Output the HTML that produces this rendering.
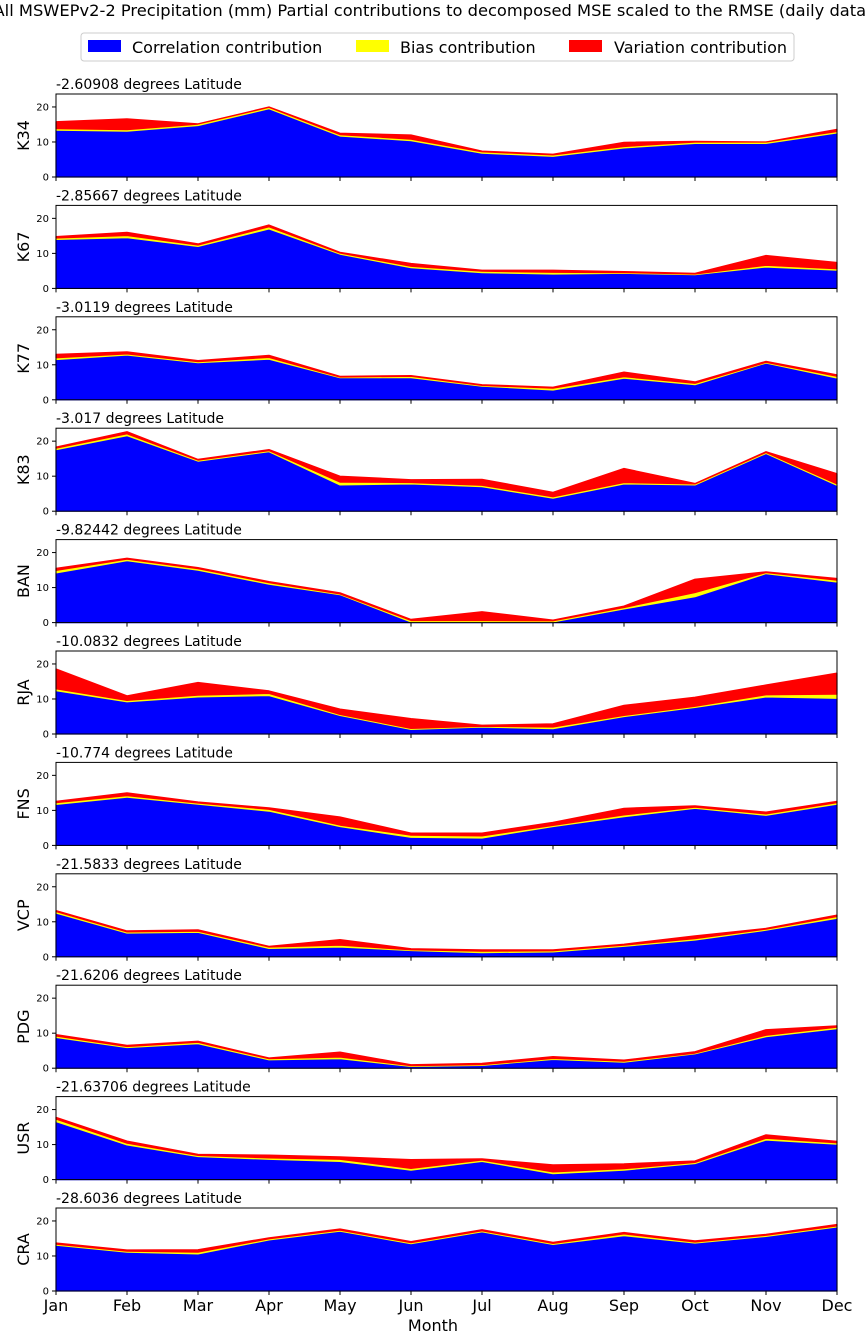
<!DOCTYPE html>
<html><head><meta charset="utf-8"><style>
html,body{margin:0;padding:0;background:#fff;}
svg{display:block;font-family:"DejaVu Sans","Liberation Sans",sans-serif;}
</style></head><body>
<svg id="chart" width="866" height="1331" viewBox="0 0 866 1331" xmlns="http://www.w3.org/2000/svg">
<text x="433" y="16" font-size="16.3" text-anchor="middle">All MSWEPv2-2 Precipitation (mm) Partial contributions to decomposed MSE scaled to the RMSE (daily data)</text>
<g>
<rect x="81" y="33" width="713" height="28" rx="3" fill="#fff" stroke="#ccc"/>
<rect x="88" y="40" width="33" height="12" fill="#0000ff"/>
<text x="132" y="53" font-size="16">Correlation contribution</text>
<rect x="356" y="40" width="33" height="12" fill="#ffff00"/>
<text x="400" y="53" font-size="16">Bias contribution</text>
<rect x="569" y="40" width="33" height="12" fill="#ff0000"/>
<text x="614" y="53" font-size="16">Variation contribution</text>
</g>
<g id="panels"></g>
<text x="433" y="1331" font-size="16" text-anchor="middle">Month</text>
</svg>
<script>
const months = ["Jan","Feb","Mar","Apr","May","Jun","Jul","Aug","Sep","Oct","Nov","Dec"];
const stations = ["K34","K67","K77","K83","BAN","RJA","FNS","VCP","PDG","USR","CRA"];
const latitudes = ["-2.60908","-2.85667","-3.0119","-3.017","-9.82442","-10.0832","-10.774","-21.5833","-21.6206","-21.63706","-28.6036"];
const yTicks = [0,10,20];
const corrK34=[13.4,13.1,14.7,19.5,11.7,10.4,6.8,5.9,8.3,9.6,9.6,12.6];
const biasK34=[0.4,0.4,0.4,0.4,0.4,0.4,0.4,0.4,0.4,0.4,0.4,0.4];
const varK34=[2.0,3.1,0.1,0.1,0.4,1.2,0.2,0.2,1.2,0.2,0.0,0.6];
const corrK67=[14,14.5,12,17,9.8,5.9,4.5,4.1,4.3,3.9,6.1,5.2];
const biasK67=[0.4,0.6,0.4,0.6,0.3,0.4,0.4,0.5,0.2,0.2,0.5,0.4];
const varK67=[0.4,0.9,0.3,0.5,0.2,0.8,0.3,0.6,0.3,0.2,2.8,1.8];
const corrK77=[11.5,12.8,10.6,11.6,6.3,6.3,3.9,2.8,6.2,4.3,10.5,6.2];
const biasK77=[0.5,0.3,0.3,0.5,0.2,0.4,0.2,0.5,0.4,0.4,0.2,0.5];
const varK77=[1.0,0.6,0.3,0.6,0.2,0.2,0.2,0.3,1.3,0.4,0.3,0.4];
const corrK83=[17.6,21.6,14.3,17,7.5,7.8,7,3.7,7.8,7.5,16.5,7.4];
const biasK83=[0.4,0.5,0.3,0.3,0.8,0.4,0.4,0.4,0.4,0.3,0.3,0.4];
const varK83=[0.3,0.6,0.2,0.3,1.7,0.8,1.7,1.3,4.0,0.1,0.2,2.9];
const corrBAN=[14.2,17.7,15,11,8,0.2,0.2,0.2,3.9,7.4,14,11.6];
const biasBAN=[0.7,0.4,0.4,0.4,0.2,0.4,0.4,0.3,0.4,1.2,0.3,0.5];
const varBAN=[0.6,0.3,0.3,0.3,0.3,0.3,2.5,0.2,0.4,3.8,0.2,0.5];
const corrRJA=[12.4,9.2,10.6,11,5.3,1.3,2,1.5,5,7.6,10.6,10.2];
const biasRJA=[0.5,0.4,0.5,0.6,0.3,0.3,0.2,0.5,0.3,0.3,0.6,1.2];
const varRJA=[5.7,1.3,3.6,0.7,1.5,2.8,0.3,0.9,2.9,2.6,2.8,6.0];
const corrFNS=[11.7,13.8,11.8,9.8,5.4,2.3,2.1,5.4,8.2,10.6,8.6,11.8];
const biasFNS=[0.5,0.4,0.3,0.5,0.4,0.6,0.6,0.3,0.5,0.3,0.4,0.4];
const varFNS=[0.4,0.8,0.3,0.4,2.3,0.6,0.8,0.9,1.9,0.4,0.5,0.4];
const corrVCP=[12.5,6.8,7,2.4,2.8,1.8,1.2,1.4,3,4.8,7.6,11];
const biasVCP=[0.4,0.3,0.3,0.4,0.5,0.2,0.4,0.3,0.3,0.4,0.3,0.5];
const varVCP=[0.3,0.3,0.4,0.2,1.6,0.3,0.4,0.3,0.3,0.8,0.2,0.4];
const corrPDG=[8.8,5.9,7,2.4,2.7,0.5,0.8,2.5,1.7,4.1,9,11.3];
const biasPDG=[0.4,0.3,0.4,0.3,0.5,0.2,0.2,0.3,0.3,0.2,0.4,0.4];
const varPDG=[0.4,0.3,0.3,0.2,1.4,0.3,0.4,0.5,0.3,0.4,1.6,0.4];
const corrUSR=[16.6,9.9,6.6,5.8,5.2,2.7,5.2,1.7,2.7,4.6,11.3,10.1];
const biasUSR=[0.7,0.5,0.3,0.4,0.6,0.5,0.4,0.5,0.4,0.3,0.5,0.4];
const varUSR=[0.5,0.6,0.3,0.8,0.7,2.5,0.3,2.0,1.4,0.4,1.0,0.4];
const corrCRA=[13.1,11.1,10.6,14.6,17.1,13.5,16.9,13.3,15.8,13.7,15.6,18.3];
const biasCRA=[0.3,0.3,0.5,0.3,0.3,0.3,0.3,0.3,0.5,0.3,0.3,0.3];
const varCRA=[0.3,0.3,0.7,0.3,0.3,0.3,0.3,0.3,0.4,0.3,0.3,0.4];
const corrAll=[corrK34,corrK67,corrK77,corrK83,corrBAN,corrRJA,corrFNS,corrVCP,corrPDG,corrUSR,corrCRA];
const biasAll=[biasK34,biasK67,biasK77,biasK83,biasBAN,biasRJA,biasFNS,biasVCP,biasPDG,biasUSR,biasCRA];
const varAll=[varK34,varK67,varK77,varK83,varBAN,varRJA,varFNS,varVCP,varPDG,varUSR,varCRA];

const NS="http://www.w3.org/2000/svg";
const g=document.getElementById('panels');
const X0=56,X1=837,PH=83,YMAX=23.7;
const xs=i=>X0+(X1-X0)*i/11;
function mk(tag,attrs,parent){const e=document.createElementNS(NS,tag);for(const k in attrs)e.setAttribute(k,attrs[k]);parent.appendChild(e);return e;}
stations.forEach((st,p)=>{
  const top=94+p*111.4, bot=top+PH;
  const ys=v=>bot-v/YMAX*PH;
  const pg=mk('g',{},g);
  
  
  const c=corrAll[p],b=biasAll[p],v=varAll[p];
  const l1=c, l2=c.map((x,i)=>x+b[i]), l3=l2.map((x,i)=>x+v[i]);
  const layers=[[l1.map(()=>0),l1,'#0000ff','correlation'],[l1,l2,'#ffff00','bias'],[l2,l3,'#ff0000','variation']];
  layers.forEach(([lo,hi,col,nm])=>{
    let d='M'+hi.map((y,i)=>xs(i).toFixed(1)+','+ys(y).toFixed(1)).join('L');
    for(let i=11;i>=0;i--)d+='L'+xs(i).toFixed(1)+','+ys(lo[i]).toFixed(1);
    d+='Z';
    const a=mk('path',{d:d,fill:col,stroke:col,'stroke-width':'1.2','stroke-linejoin':'round'},pg);
    
    
  });
  const fr=mk('rect',{x:X0,y:top,width:X1-X0,height:PH,fill:'none',stroke:'#000','stroke-width':'1'},pg);
  
  
  yTicks.forEach(t=>{
    mk('line',{x1:X0-4,x2:X0,y1:ys(t),y2:ys(t),stroke:'#000'},pg);
    const tl=mk('text',{x:X0-7,y:ys(t)+3.5,'font-size':'10','text-anchor':'end'},pg);
    tl.textContent=t;
    
    
  });
  months.forEach((m,i)=>mk('line',{x1:xs(i),x2:xs(i),y1:bot,y2:bot+4,stroke:'#000'},pg));
  const yl=mk('text',{x:0,y:0,'font-size':'16','text-anchor':'middle',transform:`translate(29,${top+PH/2}) rotate(-90)`},pg);
  yl.textContent=st;
  
  
  const tt=mk('text',{x:X0,y:top-5,'font-size':'14'},pg);
  tt.textContent=latitudes[p]+' degrees Latitude';
  
  
  if(p===stations.length-1){
    months.forEach((m,i)=>{
      const ml=mk('text',{x:xs(i),y:bot+20,'font-size':'16','text-anchor':'middle'},pg);
      ml.textContent=m;
      
      
    });
  }
});
</script>
</body></html>
